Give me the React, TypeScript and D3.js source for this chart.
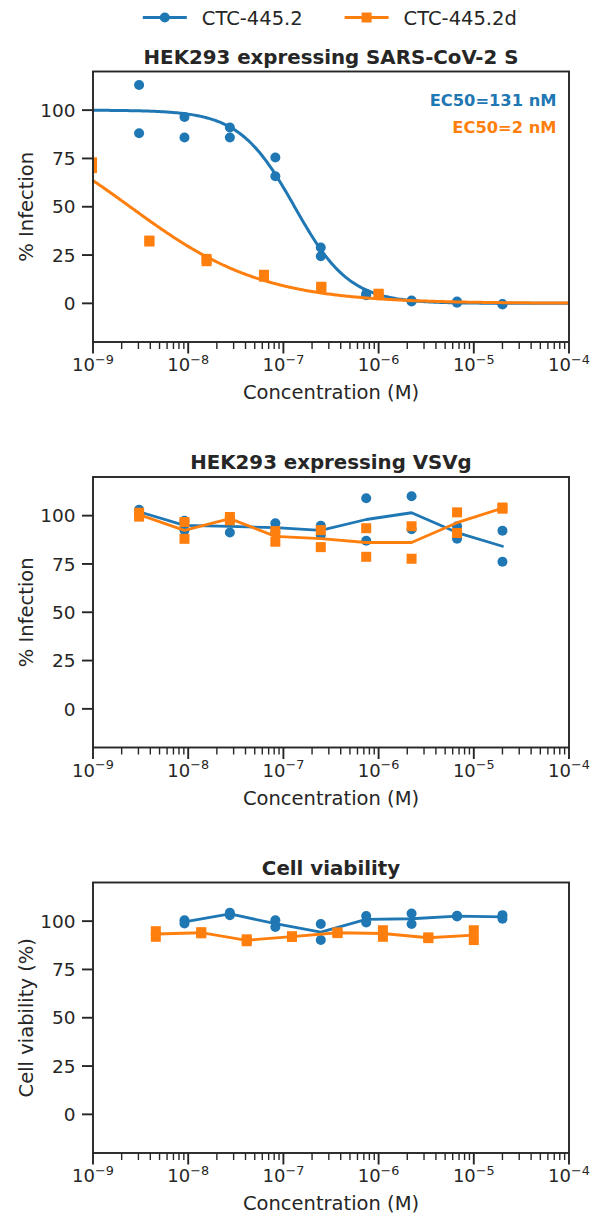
import React from "react";
import * as d3 from "d3";

// ---------- data ----------
const seriesNames = ["CTC-445.2", "CTC-445.2d"];
const colors = ["#1f77b4", "#ff7f0e"];

// 3-fold dilutions (M)
const conc3 = [3.05e-9, 9.14e-9, 2.74e-8, 8.23e-8, 2.47e-7, 7.41e-7, 2.22e-6, 6.67e-6, 2.0e-5];
// 4-fold dilutions (M) for CTC-445.2d on SARS-CoV-2 S
const conc4 = [9.77e-10, 3.91e-9, 1.56e-8, 6.25e-8, 2.5e-7, 1.0e-6];
// viability concentrations
const viabBlueConc = [9.14e-9, 2.74e-8, 8.23e-8, 2.47e-7, 7.41e-7, 2.22e-6, 6.67e-6, 2.0e-5];
const viabOrangeConc = [4.57e-9, 1.37e-8, 4.12e-8, 1.23e-7, 3.7e-7, 1.11e-6, 3.33e-6, 1.0e-5];

// Panel 1 replicates (% infection)
const sarsBlue = [[113, 88], [96.5, 85.8], [91, 85.8], [75.5, 65.8], [28.9, 24.4], [5, 4.2], [1.5, 1], [1, 0.3], [-0.3, -0.6]];
const sarsOrange = [[73, 70], [32.5, 32], [23, 21.8], [14.8, 13.8], [8.6, 8.2], [5, 4.5]];
// fitted Hill parameters
const fitBlue = { ec50: 1.31e-7, hill: 1.5, top: 100, bottom: 0 };
const fitOrange = { ec50: 2.45e-9, hill: 0.62, top: 100, bottom: 0 };
const ec50Labels = ["EC50=131 nM", "EC50=2 nM"];

// Panel 2 replicates
const vsvBlue = [[103, 101], [97.4, 92.5], [97.5, 91.3], [96, 91.5], [94.8, 90], [109, 87], [110, 93], [94.5, 88], [92.2, 76.1]];
const vsvOrange = [[101.5, 99.5], [96.7, 88], [99.3, 97.6], [92, 86.5], [92.5, 83.7], [93.5, 78.7], [94.5, 77.7], [101.7, 91], [104.2, 103.6]];

// Panel 3 replicates
const viabBlue = [[100.5, 98.8], [104.3, 103.1], [100.5, 97], [98.5, 90.2], [102.6, 99.3], [104, 98.5], [102.8, 102.4], [103.1, 101.3]];
const viabOrange = [[94.8, 91.9], [94.3, 93.7], [90.6, 89.6], [92.2, 91.8], [94.2, 93.8], [95.3, 91.9], [91.6, 91.2], [95.3, 90.2]];

const yTicks = [0, 25, 50, 75, 100];
const xTickExps = [-9, -8, -7, -6, -5, -4];
const titles = ["HEK293 expressing SARS-CoV-2 S", "HEK293 expressing VSVg", "Cell viability"];
const yLabels = ["% Infection", "% Infection", "Cell viability (%)"];
const xLabel = "Concentration (M)";

// ---------- layout ----------
const W = 594, H = 1217;
const LEFT = 93, RIGHT = 569;
const TOPS = [71.5, 477, 882.5];
const PH = 270.5;
const FONT = "DejaVu Sans";
const INK = "#262626";

const x = d3.scaleLog().domain([1e-9, 1e-4]).range([LEFT, RIGHT]);

const hill = (p: { ec50: number; hill: number; top: number; bottom: number }) => (c: number) =>
  p.bottom + (p.top - p.bottom) / (1 + Math.pow(c / p.ec50, p.hill));

type Pts = { conc: number[]; reps: number[][] };

function Markers({ conc, reps, color, shape, y }: Pts & { color: string; shape: string; y: d3.ScaleLinear<number, number> }) {
  const out: JSX.Element[] = [];
  conc.forEach((c, i) =>
    reps[i].forEach((v, j) => {
      const cx = x(c), cy = y(v);
      out.push(
        shape === "circle" ? (
          <circle key={i + "-" + j} cx={cx} cy={cy} r={5} fill={color} />
        ) : (
          <rect key={i + "-" + j} x={cx - 5} y={cy - 5} width={10} height={10} fill={color} />
        )
      );
    })
  );
  return <g>{out}</g>;
}

function Panel({ idx, children }: { idx: number; children: (y: d3.ScaleLinear<number, number>) => React.ReactNode }) {
  const top = TOPS[idx];
  const bottom = top + PH;
  const y = d3.scaleLinear().domain([-20, 120]).range([bottom, top]);
  const minor: number[] = [];
  for (let e = -9; e < -4; e++) for (let m = 2; m <= 9; m++) minor.push(m * Math.pow(10, e));
  const clipId = "clip" + idx;
  return (
    <g>
      <defs>
        <clipPath id={clipId}>
          <rect x={LEFT} y={top} width={RIGHT - LEFT} height={PH} />
        </clipPath>
      </defs>
      <g clipPath={`url(#${clipId})`}>{children(y)}</g>
      <rect x={LEFT} y={top} width={RIGHT - LEFT} height={PH} fill="none" stroke={INK} strokeWidth={1.9} />
      {/* y ticks */}
      {yTicks.map((t) => (
        <g key={t}>
          <line x1={LEFT - 11} x2={LEFT} y1={y(t)} y2={y(t)} stroke={INK} strokeWidth={1.9} />
          <text x={LEFT - 17.5} y={y(t)} dy="0.36em" textAnchor="end" fontSize={18.5} fill={INK} fontFamily={FONT}>
            {t}
          </text>
        </g>
      ))}
      {/* x ticks */}
      {minor.map((m, i) => (
        <line key={"m" + i} x1={x(m)} x2={x(m)} y1={bottom} y2={bottom + 7} stroke={INK} strokeWidth={1.4} />
      ))}
      {xTickExps.map((e) => {
        const v = Math.pow(10, e);
        return (
          <g key={e}>
            <line x1={x(v)} x2={x(v)} y1={bottom} y2={bottom + 11.5} stroke={INK} strokeWidth={1.9} />
            <text x={x(v)} y={bottom + 29} textAnchor="middle" fontSize={18} fill={INK} fontFamily={FONT}>
              <tspan>10</tspan>
              <tspan dy={-7.5} fontSize={12.8}>{"\u2212" + Math.abs(e)}</tspan>
            </text>
          </g>
        );
      })}
      <text x={(LEFT + RIGHT) / 2} y={bottom + 57} textAnchor="middle" fontSize={19.5} fill={INK} fontFamily={FONT}>
        {xLabel}
      </text>
      <text
        transform={`translate(32.5,${(top + bottom) / 2}) rotate(-90)`}
        textAnchor="middle"
        fontSize={19.5}
        fill={INK}
        fontFamily={FONT}
      >
        {yLabels[idx]}
      </text>
      <text x={(LEFT + RIGHT) / 2} y={top - 8} textAnchor="middle" fontSize={19.8} fontWeight="bold" fill={INK} fontFamily={FONT}>
        {titles[idx]}
      </text>
    </g>
  );
}

const mean = (a: number[]) => d3.mean(a) as number;

function MeanLine({ conc, reps, color, y }: Pts & { color: string; y: d3.ScaleLinear<number, number> }) {
  const line = d3
    .line<number>()
    .x((_, i) => x(conc[i]))
    .y((d) => y(d));
  return <path d={line(reps.map(mean)) || ""} fill="none" stroke={color} strokeWidth={2.8} strokeLinejoin="round" strokeLinecap="round" />;
}

function FitCurve({ p, color, y }: { p: typeof fitBlue; color: string; y: d3.ScaleLinear<number, number> }) {
  const f = hill(p);
  const samples = d3.range(0, 301).map((i) => Math.pow(10, -9 + (5 * i) / 300));
  const line = d3
    .line<number>()
    .x((c) => x(c))
    .y((c) => y(f(c)));
  return <path d={line(samples) || ""} fill="none" stroke={color} strokeWidth={3} />;
}

export default function App() {
  return (
    <svg width={W} height={H} style={{ position: "absolute", left: 0, top: 0, background: "#fff" }}>
      <rect width={W} height={H} fill="#fff" />
      {/* legend */}
      {seriesNames.map((n, i) => {
        const x0 = i === 0 ? 142.8 : 344.6;
        const cy = 17.5;
        return (
          <g key={n}>
            <line x1={x0} x2={x0 + 44} y1={cy} y2={cy} stroke={colors[i]} strokeWidth={3} />
            {i === 0 ? (
              <circle cx={x0 + 22} cy={cy} r={5} fill={colors[i]} />
            ) : (
              <rect x={x0 + 17} y={cy - 5} width={10} height={10} fill={colors[i]} />
            )}
            <text x={x0 + 59} y={cy + 7} fontSize={19.5} fill={INK} fontFamily={FONT}>
              {n}
            </text>
          </g>
        );
      })}

      <Panel idx={0}>
        {(y) => (
          <g>
            <FitCurve p={fitBlue} color={colors[0]} y={y} />
            <Markers conc={conc3} reps={sarsBlue} color={colors[0]} shape="circle" y={y} />
            <FitCurve p={fitOrange} color={colors[1]} y={y} />
            <Markers conc={conc4} reps={sarsOrange} color={colors[1]} shape="square" y={y} />
          </g>
        )}
      </Panel>
      <text x={556.5} y={106} textAnchor="end" fontSize={16.3} fontWeight="bold" fill={colors[0]} fontFamily={FONT}>
        {ec50Labels[0]}
      </text>
      <text x={556.5} y={133} textAnchor="end" fontSize={16.3} fontWeight="bold" fill={colors[1]} fontFamily={FONT}>
        {ec50Labels[1]}
      </text>

      <Panel idx={1}>
        {(y) => (
          <g>
            <MeanLine conc={conc3} reps={vsvBlue} color={colors[0]} y={y} />
            <Markers conc={conc3} reps={vsvBlue} color={colors[0]} shape="circle" y={y} />
            <MeanLine conc={conc3} reps={vsvOrange} color={colors[1]} y={y} />
            <Markers conc={conc3} reps={vsvOrange} color={colors[1]} shape="square" y={y} />
          </g>
        )}
      </Panel>

      <Panel idx={2}>
        {(y) => (
          <g>
            <MeanLine conc={viabBlueConc} reps={viabBlue} color={colors[0]} y={y} />
            <Markers conc={viabBlueConc} reps={viabBlue} color={colors[0]} shape="circle" y={y} />
            <MeanLine conc={viabOrangeConc} reps={viabOrange} color={colors[1]} y={y} />
            <Markers conc={viabOrangeConc} reps={viabOrange} color={colors[1]} shape="square" y={y} />
          </g>
        )}
      </Panel>
    </svg>
  );
}
